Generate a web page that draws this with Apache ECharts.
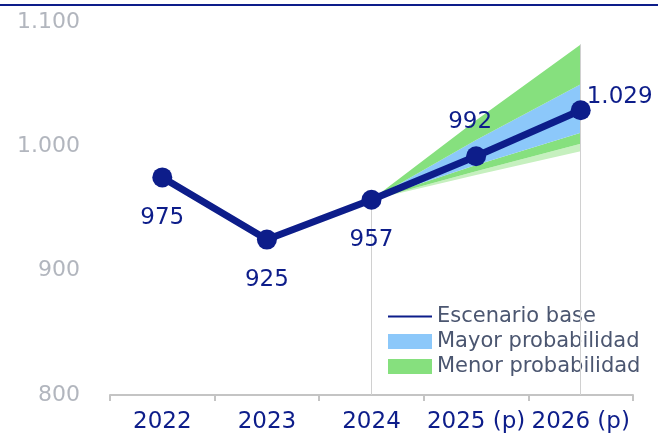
<!DOCTYPE html>
<html>
<head>
<meta charset="utf-8">
<script src="https://cdn.jsdelivr.net/npm/echarts@6/dist/echarts.min.js"></script>
<style>html,body{margin:0;padding:0;background:#fff;}#c{width:658px;height:443px;}</style>
</head>
<body>
<div id="c"></div>
<script>
const categories = ['2022', '2023', '2024', '2025 (p)', '2026 (p)'];
const baseValues = [975, 925, 957, 992, 1029];
// fan bounds (2022, 2023 empty)
const paleLow   = ['-', '-', 957, 977, 996];
const greenLow  = ['-', '-', 957, 980, 1002];
const blueLow   = ['-', '-', 957, 985, 1011];
const blueHigh  = ['-', '-', 957, 1005, 1050];
const greenHigh = ['-', '-', 957, 1021, 1082];
const yTicks = [800, 900, 1000, 1100];

const NAVY = '#0d1d8a';
const FONT = 'DejaVu Sans';
const fmt = v => String(v).replace(/\B(?=(\d{3})+(?!\d))/g, '.');
const diff = (a, b) => a.map((v, i) => (v === '-' ? '-' : v - b[i]));

const labelPos = [
  {position: 'bottom', distance: 19},
  {position: 'bottom', distance: 19},
  {position: 'bottom', distance: 19},
  {position: 'top', distance: 12, offset: [-6, -1]},
  {position: 'right', distance: 5, offset: [-9, -13]}
];

const band = (name, data, color) => ({
  name, type: 'line', stack: 'fan', data,
  symbol: 'none', lineStyle: {width: 0, opacity: 0},
  itemStyle: {color}, areaStyle: {color, opacity: color === 'transparent' ? 0 : 1},
  z: 1, silent: true
});

const chart = echarts.init(document.getElementById('c'));
chart.setOption({
  animation: false,
  textStyle: {fontFamily: FONT},
  grid: {left: 110, right: 25, top: 22, bottom: 48, containLabel: false},
  graphic: [{
    type: 'rect', left: 0, top: 4, shape: {width: 658, height: 2},
    style: {fill: NAVY}
  }],
  legend: {
    orient: 'vertical', left: 388, top: 306, padding: 0,
    itemWidth: 44, itemHeight: 15, itemGap: 4, selectedMode: false,
    symbolKeepAspect: true,
    textStyle: {fontSize: 21, color: '#4b5670', fontFamily: FONT, lineHeight: 21},
    data: [
      {name: 'Escenario base', icon: 'path://M0,0 L44,0 L44,2 L0,2 Z', itemStyle: {color: NAVY}},
      {name: 'Mayor probabilidad', icon: 'rect'},
      {name: 'Menor probabilidad', icon: 'rect'}
    ]
  },
  xAxis: {
    type: 'category', data: categories, boundaryGap: true,
    axisLine: {lineStyle: {color: '#c4c4c4', width: 2}},
    axisTick: {show: true, length: 6, interval: 0, lineStyle: {color: '#c4c4c4', width: 2}},
    axisLabel: {color: NAVY, fontSize: 23, fontFamily: FONT, margin: 16, interval: 0}
  },
  yAxis: {
    type: 'value', min: yTicks[0], max: yTicks[yTicks.length - 1], interval: 100,
    axisLine: {show: false}, axisTick: {show: false}, splitLine: {show: false},
    axisLabel: {color: '#b2b6be', fontSize: 22, fontFamily: FONT, margin: 30, formatter: fmt}
  },
  series: [
    band('fanBase', paleLow, 'transparent'),
    band('fringe', diff(greenLow, paleLow), '#c6f0bf'),
    band('Menor probabilidad', diff(blueLow, greenLow), '#86e07e'),
    band('Mayor probabilidad', diff(blueHigh, blueLow), '#8cc8fa'),
    band('Menor probabilidad', diff(greenHigh, blueHigh), '#86e07e'),
    {
      name: 'Escenario base', type: 'line', data: [],
      symbol: 'none', lineStyle: {width: 2, color: NAVY}, itemStyle: {color: NAVY}
    },
    {
      name: 'base', type: 'line', z: 5,
      data: baseValues.map((v, i) => ({value: v, label: labelPos[i]})),
      symbol: 'circle', symbolSize: 20,
      lineStyle: {width: 7, color: NAVY}, itemStyle: {color: NAVY},
      label: {show: true, color: NAVY, fontSize: 23, fontFamily: FONT, formatter: p => fmt(p.value)},
      markLine: {
        silent: true, symbol: 'none', label: {show: false},
        lineStyle: {color: '#d0d0d0', width: 1, type: 'solid'},
        data: [
          [{coord: [categories[2], baseValues[2]]}, {coord: [categories[2], yTicks[0]]}],
          [{coord: [categories[4], greenHigh[4]]}, {coord: [categories[4], yTicks[0]]}]
        ]
      }
    }
  ]
});
</script>
</body>
</html>
